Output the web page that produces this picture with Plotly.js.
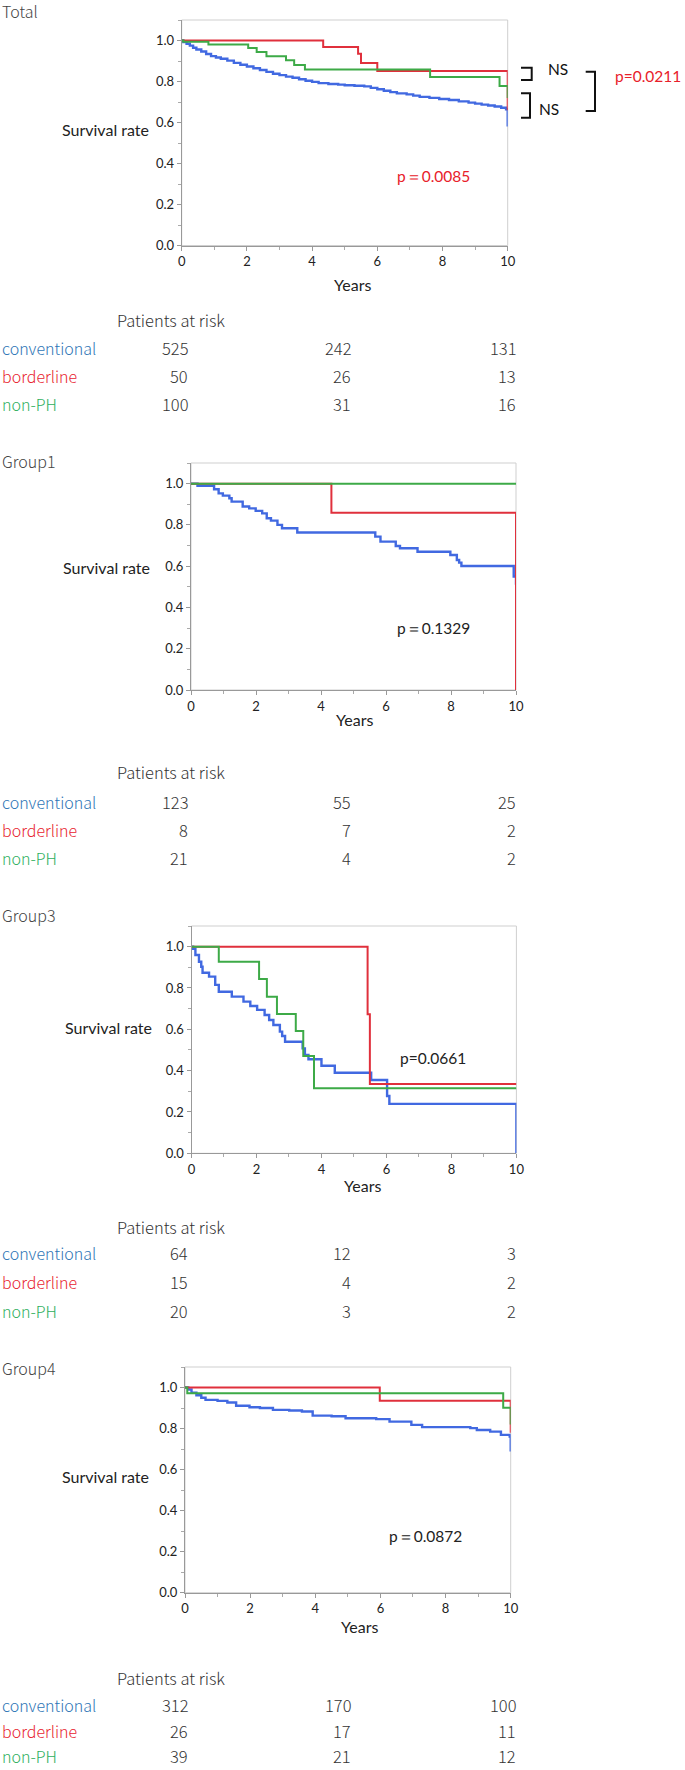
<!DOCTYPE html>
<html><head><meta charset="utf-8">
<script src="https://cdn.plot.ly/plotly-3.0.1.min.js"></script>
<style>html,body{margin:0;padding:0;background:#fff}</style>
</head><body><div id="chart" style="width:685px;height:1770px"></div>
<script>
// ---------- DATA ----------
const panelTitles = ['Total', 'Group1', 'Group3', 'Group4'];
const seriesNames = ['conventional', 'borderline', 'non-PH'];
const pValueLabels = ['p\uFF1D0.0085', 'p\uFF1D0.1329', 'p=0.0661', 'p\uFF1D0.0872'];

// Total
const totalConvT = [0,0.05,0.15,0.25,0.35,0.45,0.6,0.75,0.9,1.05,1.2,1.4,1.6,1.8,2.0,2.2,2.4,2.6,2.8,3.0,3.2,3.4,3.6,3.8,4.0,4.2,4.5,4.8,5.0,5.3,5.6,5.8,6.0,6.2,6.4,6.6,6.9,7.1,7.3,7.6,7.9,8.2,8.5,8.8,9.0,9.2,9.4,9.6,9.8,9.95,10];
const totalConvS = [1,0.993,0.984,0.975,0.965,0.956,0.946,0.934,0.924,0.917,0.911,0.902,0.891,0.882,0.873,0.865,0.856,0.847,0.838,0.831,0.824,0.818,0.811,0.804,0.798,0.792,0.788,0.785,0.782,0.779,0.776,0.769,0.762,0.755,0.748,0.742,0.737,0.731,0.725,0.72,0.715,0.71,0.703,0.697,0.692,0.687,0.683,0.678,0.672,0.665,0.58];
const totalBordT = [0,4.34,5.41,5.5,6.0,10];
const totalBordS = [1,0.968,0.935,0.89,0.851,0.66];
const totalNonT = [0,0.05,0.82,2.04,2.3,2.6,3.2,3.45,3.78,7.62,9.75,10];
const totalNonS = [1,0.994,0.981,0.963,0.944,0.923,0.904,0.881,0.858,0.822,0.778,0.72];

// Group1
const g1ConvT = [0,0.2,0.71,0.85,0.98,1.18,1.25,1.59,1.79,1.99,2.19,2.33,2.46,2.66,2.8,3.27,5.67,5.83,6.3,6.43,6.97,7.98,8.18,8.25,8.32,9.93,10];
const g1ConvS = [1,0.99,0.973,0.953,0.942,0.929,0.913,0.889,0.88,0.868,0.856,0.832,0.821,0.8,0.784,0.763,0.743,0.719,0.698,0.687,0.67,0.654,0.63,0.617,0.601,0.55,0.51];
const g1BordT = [0,4.32,10];
const g1BordS = [1,0.859,0];
const g1NonT = [0,10];
const g1NonS = [1,1];

// Group3
const g3ConvT = [0,0.05,0.12,0.23,0.3,0.34,0.54,0.73,0.84,1.24,1.6,1.81,2.02,2.25,2.39,2.52,2.72,2.79,2.88,3.42,3.49,3.6,4.0,4.41,5.53,6.02,6.09,10];
const g3ConvS = [1,0.99,0.96,0.927,0.903,0.874,0.855,0.815,0.782,0.758,0.734,0.713,0.694,0.669,0.645,0.621,0.589,0.568,0.54,0.508,0.476,0.455,0.424,0.39,0.355,0.277,0.239,0];
const g3BordT = [0,5.42,5.49,10];
const g3BordS = [1,0.673,0.335,0.335];
const g3NonT = [0,0.84,2.08,2.32,2.63,3.21,3.44,3.77,10];
const g3NonS = [1,0.927,0.844,0.758,0.674,0.592,0.471,0.315,0.315];

// Group4
const g4ConvT = [0,0.1,0.2,0.35,0.5,0.63,1.0,1.3,1.57,1.98,2.3,2.7,3.2,3.59,3.92,4.5,4.93,5.87,6.28,6.95,7.28,8.76,8.96,9.37,9.7,9.97,10];
const g4ConvS = [1,0.99,0.975,0.962,0.95,0.94,0.935,0.927,0.911,0.904,0.9,0.891,0.888,0.883,0.863,0.86,0.85,0.846,0.834,0.818,0.807,0.802,0.793,0.785,0.769,0.761,0.688];
const g4BordT = [0,5.98,10];
const g4BordS = [1,0.935,0.78];
const g4NonT = [0,0.07,9.77,10];
const g4NonS = [1,0.972,0.902,0.82];

// Patients at risk (at 0, 5, 10 years)
const riskTotalConv = [525, 242, 131];
const riskTotalBord = [50, 26, 13];
const riskTotalNon = [100, 31, 16];
const riskG1Conv = [123, 55, 25];
const riskG1Bord = [8, 7, 2];
const riskG1Non = [21, 4, 2];
const riskG3Conv = [64, 12, 3];
const riskG3Bord = [15, 4, 2];
const riskG3Non = [20, 3, 2];
const riskG4Conv = [312, 170, 100];
const riskG4Bord = [26, 17, 11];
const riskG4Non = [39, 21, 12];

// ---------- STYLE / LAYOUT ----------
const W = 685, H = 1770;
const px = v => v / W;
const py = v => 1 - v / H;
const JP = '"Noto Sans CJK JP", "Noto Sans", sans-serif';
const UI = 'Lato, "Open Sans", sans-serif';
const lineColors = ['#4169E1', '#E0303C', '#3DAA47'];
const labelColors = ['#2E75B6', '#E8232F', '#2EAF5E'];
const pColors = ['#E8202A', '#222', '#222', '#222'];

const curveData = [
  [[totalConvT, totalConvS], [totalBordT, totalBordS], [totalNonT, totalNonS]],
  [[g1ConvT, g1ConvS], [g1BordT, g1BordS], [g1NonT, g1NonS]],
  [[g3ConvT, g3ConvS], [g3BordT, g3BordS], [g3NonT, g3NonS]],
  [[g4ConvT, g4ConvS], [g4BordT, g4BordS], [g4NonT, g4NonS]]
];
const riskData = [
  [riskTotalConv, riskTotalBord, riskTotalNon],
  [riskG1Conv, riskG1Bord, riskG1Non],
  [riskG3Conv, riskG3Bord, riskG3Non],
  [riskG4Conv, riskG4Bord, riskG4Non]
];

// panel geometry in pixels
const panels = [
  {x0:181.7, x1:507.7, yBot:245.5, yTop:20,    titleY:11,    yearsX:352, yearsY:284,  survR:151, survY:130,   pX:395, pY:176,    riskHead:320,  rows:[347.7,376,404]},
  {x0:191,   x1:516,   yBot:690,   yTop:463,   titleY:460.7, yearsX:354, yearsY:719,  survR:152, survY:567.7, pX:395, pY:628.3,  riskHead:772.3, rows:[801.7,830,858.3]},
  {x0:191.5, x1:516.4, yBot:1153.3,yTop:926,   titleY:915,   yearsX:362, yearsY:1185, survR:154, survY:1027.7,pX:398, pY:1058.3, riskHead:1226.7,rows:[1253.3,1282.3,1310.7]},
  {x0:185,   x1:510.7, yBot:1592.7,yTop:1367,  titleY:1368.3,yearsX:359, yearsY:1626, survR:151, survY:1476.7,pX:387, pY:1535.7, riskHead:1678, rows:[1705,1731,1756]}
];
const riskColsRight = [190, 353, 518];

const traces = [];
const annotations = [];
const shapes = [];
const layout = {
  width: W, height: H,
  margin: {l:0, r:0, t:0, b:0},
  paper_bgcolor: '#fff', plot_bgcolor: '#fff',
  showlegend: false
};

panels.forEach((p, i) => {
  const sfx = i === 0 ? '' : String(i + 1);
  const xa = 'x' + sfx, ya = 'y' + sfx;
  layout['xaxis' + sfx] = {
    domain: [px(p.x0), px(p.x1)], anchor: ya,
    range: [0, 10], tick0: 0, dtick: 2,
    ticks: 'outside', ticklen: 4, tickcolor: '#999', tickwidth: 1,
    showline: true, linecolor: '#999', linewidth: 1,
    zeroline: false, showgrid: false,
    tickfont: {family: UI, size: 13, color: '#222'},
    minor: {dtick: 1, tick0: 0, ticks: 'outside', ticklen: 3, tickcolor: '#aaa', showgrid: false},
    fixedrange: true
  };
  layout['yaxis' + sfx] = {
    domain: [py(p.yBot), py(p.yTop)], anchor: xa,
    range: [0, 1.1], tick0: 0, dtick: 0.2, tickformat: '.1f',
    ticks: 'outside', ticklen: 4, tickcolor: '#999', tickwidth: 1,
    showline: true, linecolor: '#999', linewidth: 1,
    zeroline: false, showgrid: false,
    tickfont: {family: UI, size: 13, color: '#222'},
    minor: {dtick: 0.1, tick0: 0, ticks: 'outside', ticklen: 3, tickcolor: '#aaa', showgrid: false},
    fixedrange: true
  };
  shapes.push({type:'rect', xref: xa + ' domain', yref: ya + ' domain', x0:0, x1:1, y0:0, y1:1,
               line:{color:'#cfcfcf', width:1}, layer:'below'});

  curveData[i].forEach((c, s) => {
    traces.push({
      type: 'scatter', mode: 'lines', x: c[0], y: c[1],
      xaxis: xa, yaxis: ya, name: seriesNames[s],
      line: {shape: 'hv', color: lineColors[s], width: s === 0 ? 2.4 : 2},
      cliponaxis: false, hoverinfo: 'skip'
    });
  });

  annotations.push({xref:'paper', yref:'paper', x:0, y:py(p.titleY), xanchor:'left', yanchor:'middle',
    text: panelTitles[i], showarrow:false, font:{family:JP, size:16, weight:300, color:'#444'}});
  annotations.push({xref:'paper', yref:'paper', x:px(p.yearsX), y:py(p.yearsY), xanchor:'center', yanchor:'middle',
    text:'Years', showarrow:false, font:{family:UI, size:16, color:'#222'}});
  annotations.push({xref:'paper', yref:'paper', x:px(p.survR), y:py(p.survY), xanchor:'right', yanchor:'middle',
    text:'Survival rate', showarrow:false, font:{family:UI, size:16, color:'#222'}});
  annotations.push({xref:'paper', yref:'paper', x:px(p.pX), y:py(p.pY), xanchor:'left', yanchor:'middle',
    text:pValueLabels[i], showarrow:false, font:{family:UI, size:15.5, color:pColors[i]}});
  annotations.push({xref:'paper', yref:'paper', x:px(115), y:py(p.riskHead), xanchor:'left', yanchor:'middle',
    text:'Patients at risk', showarrow:false, font:{family:JP, size:16.5, weight:300, color:'#333'}});
  seriesNames.forEach((nm, s) => {
    annotations.push({xref:'paper', yref:'paper', x:0, y:py(p.rows[s]), xanchor:'left', yanchor:'middle',
      text:nm, showarrow:false, font:{family:JP, size:16, weight:300, color:labelColors[s]}});
    riskData[i][s].forEach((v, k) => {
      annotations.push({xref:'paper', yref:'paper', x:px(riskColsRight[k]), y:py(p.rows[s]), xanchor:'right', yanchor:'middle',
        text:String(v), showarrow:false, font:{family:JP, size:16.5, weight:300, color:'#333'}});
    });
  });
});

// Pairwise comparison brackets (Total panel)
function bracket(xl, xr, yt, yb) {
  shapes.push({type:'path', xref:'paper', yref:'paper',
    path:`M ${px(xl)} ${py(yt)} L ${px(xr)} ${py(yt)} L ${px(xr)} ${py(yb)} L ${px(xl)} ${py(yb)}`,
    line:{color:'#111', width:2}});
}
bracket(521, 531.7, 67.7, 80);
bracket(521, 530, 93.3, 117.7);
bracket(585.7, 595, 71.7, 111);
annotations.push({xref:'paper', yref:'paper', x:px(546), y:py(69.3), xanchor:'left', yanchor:'middle',
  text:'NS', showarrow:false, font:{family:UI, size:15.5, color:'#111'}});
annotations.push({xref:'paper', yref:'paper', x:px(536.5), y:py(109.3), xanchor:'left', yanchor:'middle',
  text:'NS', showarrow:false, font:{family:UI, size:15.5, color:'#111'}});
annotations.push({xref:'paper', yref:'paper', x:px(612.5), y:py(76), xanchor:'left', yanchor:'middle',
  text:'p=0.0211', showarrow:false, font:{family:UI, size:15.5, color:'#E8202A'}});

layout.annotations = annotations;
layout.shapes = shapes;

Plotly.newPlot('chart', traces, layout, {staticPlot: true, displayModeBar: false});
</script>
</body></html>
